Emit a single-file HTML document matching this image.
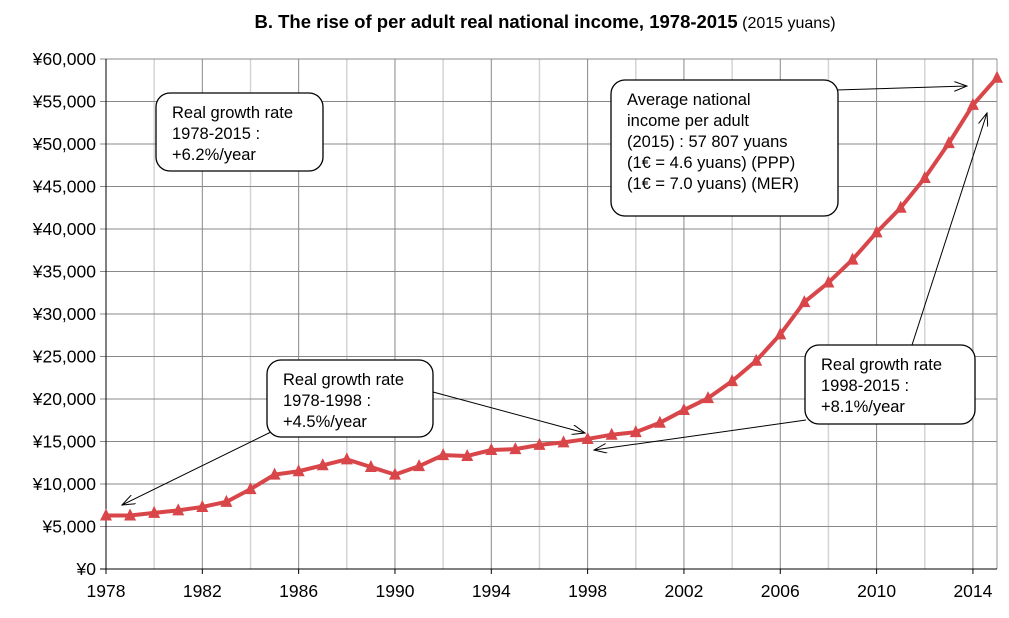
<!DOCTYPE html>
<html><head><meta charset="utf-8"><style>
body{margin:0;background:#fff;font-family:"Liberation Sans",Arial,sans-serif}
svg text{font-family:"Liberation Sans",Arial,sans-serif}
</style></head><body>
<svg id="c" width="1009" height="613">
<defs><marker id="ah" markerWidth="14" markerHeight="10" refX="13" refY="5" orient="auto" markerUnits="userSpaceOnUse"><path d="M0,0 L13,5 L0,10" fill="none" stroke="#000" stroke-width="1"/></marker></defs>
<text x="545" y="28" text-anchor="middle"><tspan font-weight="bold" font-size="18.5">B. The rise of per adult real national income, 1978-2015</tspan><tspan font-size="16"> (2015 yuans)</tspan></text>
<g id="grid"></g><g id="axes"></g><g id="series"></g><g id="notes"></g>
</svg>
<script>
const years=[1978,1979,1980,1981,1982,1983,1984,1985,1986,1987,1988,1989,1990,1991,1992,1993,1994,1995,1996,1997,1998,1999,2000,2001,2002,2003,2004,2005,2006,2007,2008,2009,2010,2011,2012,2013,2014,2015];
const income=[6300,6300,6600,6900,7300,7900,9400,11100,11500,12200,12900,12000,11100,12100,13400,13300,14000,14100,14600,14900,15300,15800,16100,17200,18700,20100,22100,24500,27600,31400,33700,36400,39600,42500,46000,50100,54600,57800];
const yTicks=[0,5000,10000,15000,20000,25000,30000,35000,40000,45000,50000,55000,60000];
const xTicks=[1978,1982,1986,1990,1994,1998,2002,2006,2010,2014];
const NS='http://www.w3.org/2000/svg';
const L=106,R=997,T=59,B=569;
const x=v=>L+(v-1978)/(2015-1978)*(R-L);
const y=v=>B-v/60000*(B-T);
function mk(p,t,a){const e=document.createElementNS(NS,t);for(const k in a)e.setAttribute(k,a[k]);document.getElementById(p).appendChild(e);return e;}
for(let yr=1980;yr<=2014;yr+=2){
  const dark=(yr-1978)%4===0;
  const e=mk('grid','line',{x1:x(yr),x2:x(yr),y1:T,y2:B,stroke:dark?'#888':'#d4d4d4','stroke-width':dark?1:1.5});
  
  
}
const rb=mk('grid','line',{x1:R,x2:R,y1:T,y2:B,stroke:'#999','stroke-width':1});


yTicks.forEach(v=>{
  const g=mk('grid','line',{x1:L-6,x2:R,y1:y(v),y2:y(v),stroke:v===0?'#000':'#888','stroke-width':1});
  
  
  const t=mk('axes','text',{x:L-10,y:y(v)+6,'text-anchor':'end','font-size':17.5});
  t.textContent='¥'+v.toLocaleString('en-US');
  
  
});
xTicks.forEach(v=>{
  const t=mk('axes','text',{x:x(v),y:B+28,'text-anchor':'middle','font-size':17.5});
  t.textContent=v;
  
  
  const k=mk('axes','line',{x1:x(v),x2:x(v),y1:B,y2:B+5,stroke:'#000'});
  
  
});
const ax=mk('axes','line',{x1:L,x2:L,y1:T,y2:B,stroke:'#000'});


const ln=mk('series','polyline',{points:years.map((yr,i)=>x(yr)+','+y(income[i])).join(' '),fill:'none',stroke:'#d9464a','stroke-width':4,'stroke-linejoin':'round'});


years.forEach((yr,i)=>{
  const cx=x(yr),cy=y(income[i]);
  const m=mk('series','polygon',{points:`${cx},${cy-7} ${cx-6},${cy+5} ${cx+6},${cy+5}`,fill:'#d9464a'});
  
  
});
function box(name,x0,y0,w,h,lines){
  const r=mk('notes','rect',{x:x0,y:y0,width:w,height:h,rx:14,fill:'#fff',stroke:'#000','stroke-width':1.3});
  
  
  lines.forEach((s,i)=>{const t=mk('notes','text',{x:x0+16,y:y0+25+i*21,'font-size':16.5});t.textContent=s;
    
    });
}
function arrow(x1,y1,x2,y2){const a=mk('notes','line',{x1,y1,x2,y2,stroke:'#000','stroke-width':1,'marker-end':'url(#ah)'});
  
  }
arrow(275,430,122,505);
arrow(433,392,585,433);
arrow(806,420,594,450);
arrow(912,345,987,113);
arrow(836,90,967,86);
box('growth-1978-2015-note',156,93,167,78,['Real growth rate','1978-2015 :','+6.2%/year']);
box('growth-1978-1998-note',267,360,166,77,['Real growth rate','1978-1998 :','+4.5%/year']);
box('average-income-note',611,80,227,136,['Average national','income per adult','(2015) : 57 807 yuans','(1€ = 4.6 yuans) (PPP)','(1€ = 7.0 yuans) (MER)']);
box('growth-1998-2015-note',805,345,170,79,['Real growth rate','1998-2015 :','+8.1%/year']);
</script>
</body></html>
